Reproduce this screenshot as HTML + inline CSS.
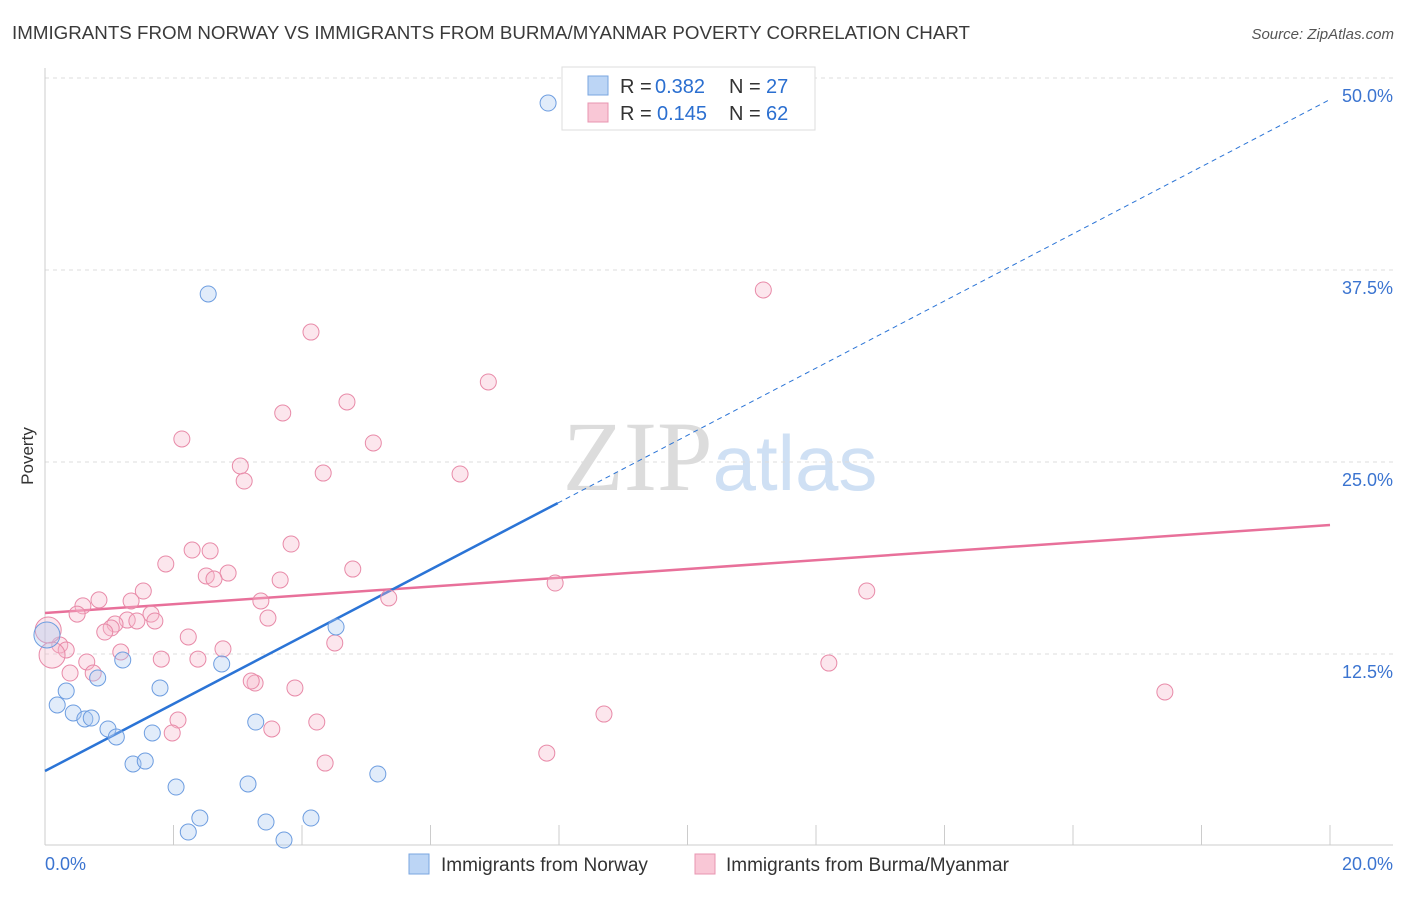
<!DOCTYPE html>
<html><head><meta charset="utf-8"><style>
body{margin:0;background:#fff;font-family:"Liberation Sans",sans-serif;}
svg text{font-family:"Liberation Sans",sans-serif;}
</style></head><body>
<svg id="chart" width="1406" height="892" viewBox="0 0 1406 892" xmlns="http://www.w3.org/2000/svg">
<text x="12" y="39" font-size="18" fill="#3a3a3a" textLength="958" lengthAdjust="spacingAndGlyphs">IMMIGRANTS FROM NORWAY VS IMMIGRANTS FROM BURMA/MYANMAR POVERTY CORRELATION CHART</text>
<text x="1394" y="39" font-size="15" fill="#555" text-anchor="end" font-style="italic">Source: ZipAtlas.com</text>
<text x="720" y="490" font-size="100" text-anchor="middle"><tspan fill="#dcdcdc" font-family="Liberation Serif">ZIP</tspan><tspan fill="#cfe0f4" font-size="78">atlas</tspan></text>
<text transform="translate(33,456) rotate(-90)" font-size="17" fill="#333" text-anchor="middle">Poverty</text>
<g id="grid"></g><g id="axes"></g><g id="lines"></g><g id="pts"></g>
<g>
<rect x="562" y="67" width="253" height="63" fill="#fff" stroke="#ddd"/>
<rect x="588" y="76" width="20" height="19" fill="#bcd5f5" stroke="#7aa6e0"/>
<text x="620" y="93" font-size="20" fill="#333">R =</text>
<text x="655" y="93" font-size="20" fill="#2b6fd0">0.382</text>
<text x="729" y="93" font-size="20" fill="#333">N =</text>
<text x="766" y="93" font-size="20" fill="#2b6fd0">27</text>
<rect x="588" y="103" width="20" height="19" fill="#f9c7d6" stroke="#e895b0"/>
<text x="620" y="120" font-size="20" fill="#333">R =</text>
<text x="657" y="120" font-size="20" fill="#2b6fd0">0.145</text>
<text x="729" y="120" font-size="20" fill="#333">N =</text>
<text x="766" y="120" font-size="20" fill="#2b6fd0">62</text>
</g>
<g>
<rect x="409" y="854" width="20" height="20" fill="#bcd5f5" stroke="#7aa6e0"/>
<text x="441" y="871" font-size="19" fill="#333">Immigrants from Norway</text>
<rect x="695" y="854" width="20" height="20" fill="#f9c7d6" stroke="#e895b0"/>
<text x="726" y="871" font-size="19" fill="#333">Immigrants from Burma/Myanmar</text>
</g>
</svg>
<script>
const blueX=[7.83,2.54,4.53,1.21,2.75,0.82,0.33,1.79,0.19,0.44,0.62,0.72,0.98,1.11,1.67,3.28,1.37,1.56,5.18,2.04,3.16,2.41,2.23,3.44,4.14,3.72,0.03];
const blueY=[48.37,35.94,14.26,12.11,11.85,10.94,10.09,10.29,9.18,8.66,8.27,8.33,7.62,7.10,7.36,8.07,5.34,5.53,4.69,3.84,4.04,1.82,0.91,1.56,1.82,0.39,13.74];
const pinkX=[11.18,4.14,6.90,4.70,3.70,2.13,5.11,3.04,4.33,6.46,3.10,3.83,2.29,2.57,1.88,4.79,2.85,2.51,2.63,3.66,7.94,12.79,1.53,0.84,5.35,0.59,1.34,3.36,0.50,1.65,1.28,1.71,1.43,3.47,1.09,1.03,0.93,2.23,0.23,2.77,0.33,4.51,1.18,1.81,2.38,0.65,12.20,0.39,0.75,3.89,3.27,3.21,17.43,8.70,2.07,4.23,1.98,3.53,7.81,4.36,0.11,0.05];
const pinkY=[36.2,33.46,30.21,28.91,28.19,26.50,26.24,24.74,24.28,24.22,23.76,19.66,19.27,19.21,18.36,18.03,17.77,17.58,17.38,17.32,17.12,16.60,16.60,16.02,16.15,15.63,15.95,15.95,15.10,15.10,14.71,14.65,14.65,14.84,14.45,14.19,13.93,13.61,13.09,12.83,12.76,13.22,12.63,12.17,12.17,11.98,11.91,11.26,11.26,10.29,10.61,10.74,10.03,8.59,8.20,8.07,7.36,7.62,6.05,5.40,12.43,14.06];
const blueLarge=[26];
const pinkLarge=[60,61];
const blueTrend=[4.88,48.6];
const pinkTrend=[15.17,20.9];
const blueSolidEnd=7.98;
const yTicks=[12.5,25,37.5,50];
const yTickLabels=["12.5%","25.0%","37.5%","50.0%"];
const xTicks=[0,2,4,6,8,10,12,14,16,18,20];
const NS='http://www.w3.org/2000/svg';
const sx=v=>45+v*64.25, sy=v=>846-v*15.36;
function mk(tag,attrs,parent){const e=document.createElementNS(NS,tag);for(const k in attrs)e.setAttribute(k,attrs[k]);parent.appendChild(e);return e;}
const grid=document.getElementById('grid'),axes=document.getElementById('axes'),lines=document.getElementById('lines'),pts=document.getElementById('pts');
yTicks.forEach((t,i)=>{
 const l=mk('line',{x1:45,x2:1393,y1:sy(t),y2:sy(t),stroke:'#ddd','stroke-dasharray':'4,4'},grid);
 
 
 const tx=mk('text',{x:1393,y:sy(t)+24,'font-size':18,fill:'#3b74d0','text-anchor':'end'},grid);
 tx.textContent=yTickLabels[i];
 
 
});
const ax=mk('line',{x1:45,x2:1393,y1:845,y2:845,stroke:'#ccc'},axes);


const ay=mk('line',{x1:45,x2:45,y1:68,y2:845,stroke:'#ccc'},axes);


xTicks.forEach(t=>{
 const l=mk('line',{x1:sx(t),x2:sx(t),y1:825,y2:845,stroke:'#ccc'},axes);
 
 
});
const xl0=mk('text',{x:45,y:870,'font-size':18,fill:'#3b74d0'},axes);xl0.textContent='0.0%';


const xl1=mk('text',{x:1393,y:870,'font-size':18,fill:'#3b74d0','text-anchor':'end'},axes);xl1.textContent='20.0%';


function drawPts(X,Y,large,fill,stroke,name){
 X.forEach((x,i)=>{
  const big=large.includes(i);
  const c=mk('circle',{cx:sx(x),cy:sy(Y[i]),r:big?13:8,fill:fill,'fill-opacity':0.35,stroke:stroke,'stroke-width':1},pts);
  
  
 });
}
drawPts(pinkX,pinkY,pinkLarge,'#f7b6ca','#e88aa8','burma-point');
drawPts(blueX,blueY,blueLarge,'#a9c8f0','#6d9de0','norway-point');
const bAt=x=>blueTrend[0]+(blueTrend[1]-blueTrend[0])*x/20;
const pl=mk('line',{x1:sx(0),y1:sy(pinkTrend[0]),x2:sx(20),y2:sy(pinkTrend[1]),stroke:'#e8709a','stroke-width':2.5},lines);


const bl=mk('line',{x1:sx(0),y1:sy(bAt(0)),x2:sx(blueSolidEnd),y2:sy(bAt(blueSolidEnd)),stroke:'#2b74d6','stroke-width':2.5},lines);


const bd=mk('line',{x1:sx(blueSolidEnd),y1:sy(bAt(blueSolidEnd)),x2:sx(20),y2:sy(bAt(20)),stroke:'#2b74d6','stroke-width':1,'stroke-dasharray':'5,4'},lines);


</script>
</body></html>
